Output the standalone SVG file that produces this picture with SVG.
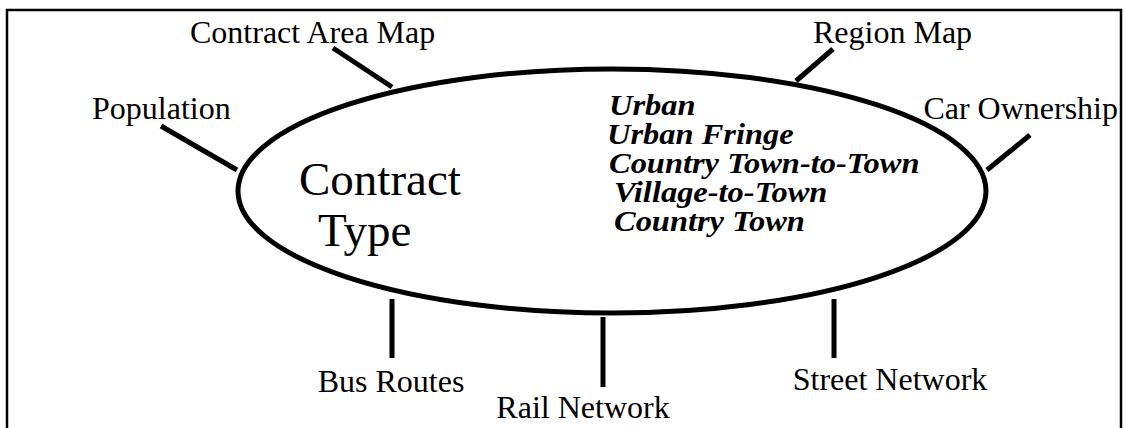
<svg xmlns="http://www.w3.org/2000/svg" width="1126" height="428" viewBox="0 0 1126 428">
<style>
.lbl{font-family:"Liberation Serif","Times New Roman",serif;font-size:32px;fill:#000}
.big{font-family:"Liberation Serif","Times New Roman",serif;font-size:47px;fill:#000}
.it{font-family:"Liberation Serif","Times New Roman",serif;font-size:29px;font-weight:bold;font-style:italic;fill:#000}
.conn line{stroke:#000;stroke-width:5}
</style>
<rect x="0" y="0" width="1126" height="428" fill="#fff"/>
<rect x="7" y="10" width="1114" height="440" fill="none" stroke="#000" stroke-width="2.5"/>
<g id="connectors" class="conn">
<line x1="333" y1="48" x2="392" y2="87"/>
<line x1="161" y1="126" x2="237" y2="170"/>
<line x1="833" y1="49" x2="796" y2="81"/>
<line x1="1030" y1="135" x2="987" y2="170"/>
<line x1="392" y1="299" x2="392" y2="358"/>
<line x1="603" y1="317" x2="603" y2="387"/>
<line x1="834" y1="299" x2="834" y2="358"/>
</g>
<g id="contract-type">
<ellipse cx="612" cy="191" rx="374" ry="122" fill="none" stroke="#000" stroke-width="5"/>
<text class="big" x="299" y="195">Contract</text>
<text class="big" x="318" y="246">Type</text>
<text class="it" transform="translate(609 115) scale(1.12 1)">Urban</text>
<text class="it" transform="translate(607 144) scale(1.12 1)">Urban Fringe</text>
<text class="it" transform="translate(609 173) scale(1.12 1)">Country Town-to-Town</text>
<text class="it" transform="translate(614 202) scale(1.12 1)">Village-to-Town</text>
<text class="it" transform="translate(614 231) scale(1.12 1)">Country Town</text>
</g>
<g id="contract-area-map"><text class="lbl" x="190" y="43">Contract Area Map</text></g>
<g id="population"><text class="lbl" x="92" y="119">Population</text></g>
<g id="region-map"><text class="lbl" x="813" y="43">Region Map</text></g>
<g id="car-ownership"><text class="lbl" x="1118" y="119" text-anchor="end">Car Ownership</text></g>
<g id="bus-routes"><text class="lbl" x="391" y="392" text-anchor="middle">Bus Routes</text></g>
<g id="rail-network"><text class="lbl" x="583" y="418" text-anchor="middle">Rail Network</text></g>
<g id="street-network"><text class="lbl" x="890" y="390" text-anchor="middle">Street Network</text></g>
</svg>
